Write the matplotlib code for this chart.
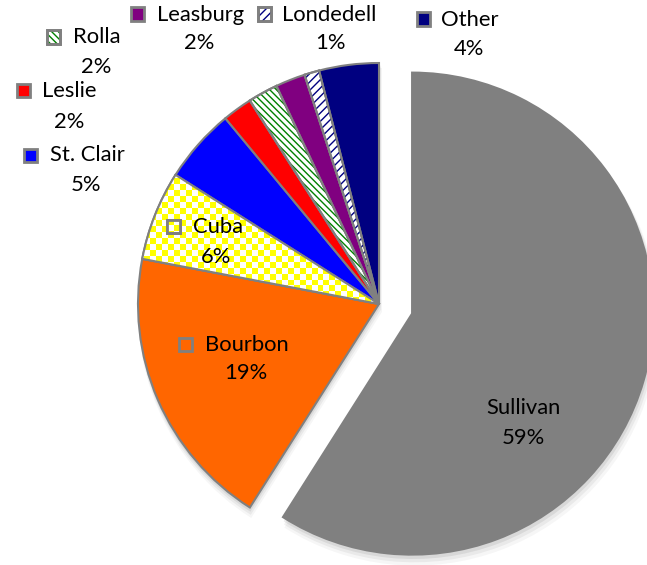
import numpy as np
import matplotlib
matplotlib.use('Agg')
import matplotlib.pyplot as plt
from matplotlib.patches import Rectangle, Wedge
from matplotlib.colors import ListedColormap

# data
towns = ['Sullivan', 'Bourbon', 'Cuba', 'St. Clair', 'Leslie', 'Rolla',
         'Leasburg', 'Londedell', 'Other']
shares = [59, 19, 6, 5, 2, 2, 2, 1, 4]

# fills: (face, hatch, hatch colour)
fills = {
    'Sullivan': ('#808080', None, None),
    'Bourbon': ('#FF6600', None, None),
    'Cuba': ('checker', None, None),
    'St. Clair': ('#0000FF', None, None),
    'Leslie': ('#FF0000', None, None),
    'Rolla': ('white', '\\\\\\\\\\', '#008000'),
    'Leasburg': ('#800080', None, None),
    'Londedell': ('white', '////', '#000080'),
    'Other': ('#000080', None, None),
}

W, H = 647, 565
CX, CY, R = 379, 304, 241   # pie centre and radius in pixels
EXPL = 0.143


def px(x, y):
    # pixel position -> data coords (radius = 1)
    return (x - CX) / R, (CY - y) / R


fig = plt.figure(figsize=(W / 100, H / 100), dpi=100)
ax = fig.add_axes([0, 0, 1, 1])

# soft shadow under the pie
th1 = 90
for t, s in zip(towns, shares):
    th2 = th1 - s * 3.6
    mid = np.deg2rad((th1 + th2) / 2)
    off = EXPL if t == 'Sullivan' else 0
    for k, a in [(10, 0.035), (7, 0.05), (4, 0.07)]:
        ax.add_patch(Wedge((off * np.cos(mid) + k / R * 0.3, off * np.sin(mid) - k / R * 0.8),
                           1 + k / R * 0.3, th2, th1, facecolor='black',
                           edgecolor='none', alpha=a, zorder=0))
    th1 = th2

wedges, _ = ax.pie(shares, startangle=90, counterclock=False, radius=1,
                   explode=[EXPL if t == 'Sullivan' else 0 for t in towns],
                   wedgeprops=dict(edgecolor='#808080', linewidth=1.5))

# checker image for Cuba
cell = 6
nx, ny = W // cell + 1, H // cell + 1
chk = (np.add.outer(np.arange(ny), np.arange(nx)) % 2).astype(float)
cmap = ListedColormap(['white', '#FFFF00'])
ext = (-CX / R, (W - CX) / R, -(H - CY) / R, CY / R)

for w, t in zip(wedges, towns):
    face, hatch, hc = fills[t]
    w.set_zorder(2)
    if face == 'checker':
        w.set_facecolor('white')
        im = ax.imshow(chk, cmap=cmap, extent=ext, interpolation='nearest',
                       zorder=2.5, aspect='auto')
        im.set_clip_path(w)
        ax.add_patch(Wedge(w.center, w.r, w.theta1, w.theta2, facecolor='none',
                           edgecolor='#808080', linewidth=1.5, zorder=3))
    else:
        w.set_facecolor(face)
    if hatch:
        ax.add_patch(Wedge(w.center, w.r, w.theta1, w.theta2, facecolor='none',
                           edgecolor=hc, linewidth=0, hatch=hatch, zorder=2.6))
        ax.add_patch(Wedge(w.center, w.r, w.theta1, w.theta2, facecolor='none',
                           edgecolor='#808080', linewidth=1.5, zorder=3))

# label layout in pixels: key square centre, name (left x or centre), name y, percent centre
layout = {
    'Sullivan': (None, 523, 408, (523, 438)),
    'Bourbon': ((185, 344), 205, 345, (246, 373)),
    'Cuba': ((173, 226), 193, 227, (216, 257)),
    'St. Clair': ((30, 155), 50, 155, (86, 185)),
    'Leslie': ((23, 90), 42, 91, (69, 122)),
    'Rolla': ((53, 37), 73, 37, (96, 67)),
    'Leasburg': ((137, 14), 157, 15, (199, 43)),
    'Londedell': ((264, 14), 282, 15, (330, 43)),
    'Other': ((423, 19), 441, 20, (469, 49)),
}

fnt = dict(fontsize=15.8, family=['Lato', 'DejaVu Sans'], color='black',
           va='center', zorder=7)
ks = 13 / R
for t, s in zip(towns, shares):
    key, nx0, ny0, pct = layout[t]
    ax.text(*px(nx0, ny0), t, ha='left' if key else 'center', **fnt)
    ax.text(*px(*pct), f'{s}%', ha='center', **fnt)
    if key is None:
        continue
    face, hatch, hc = fills[t]
    kx, ky = px(*key)
    r = Rectangle((kx - ks / 2, ky - ks / 2), ks, ks,
                  facecolor='white' if face == 'checker' else face,
                  edgecolor='#808080', linewidth=2, zorder=5)
    ax.add_patch(r)
    if face == 'checker':
        im = ax.imshow(chk, cmap=cmap, extent=ext, interpolation='nearest',
                       zorder=5.5, aspect='auto')
        im.set_clip_path(r)
        ax.add_patch(Rectangle((kx - ks / 2, ky - ks / 2), ks, ks, facecolor='none',
                               edgecolor='#808080', linewidth=2, zorder=6))
    if hatch:
        ax.add_patch(Rectangle((kx - ks / 2, ky - ks / 2), ks, ks, facecolor='none',
                               edgecolor=hc, linewidth=0, hatch=hatch, zorder=5.6))
        ax.add_patch(Rectangle((kx - ks / 2, ky - ks / 2), ks, ks, facecolor='none',
                               edgecolor='#808080', linewidth=2, zorder=6))

ax.set_xlim(ext[0], ext[1])
ax.set_ylim(ext[2], ext[3])
ax.set_aspect('equal')
ax.axis('off')

fig.savefig('out.png', dpi=100, facecolor='white')
